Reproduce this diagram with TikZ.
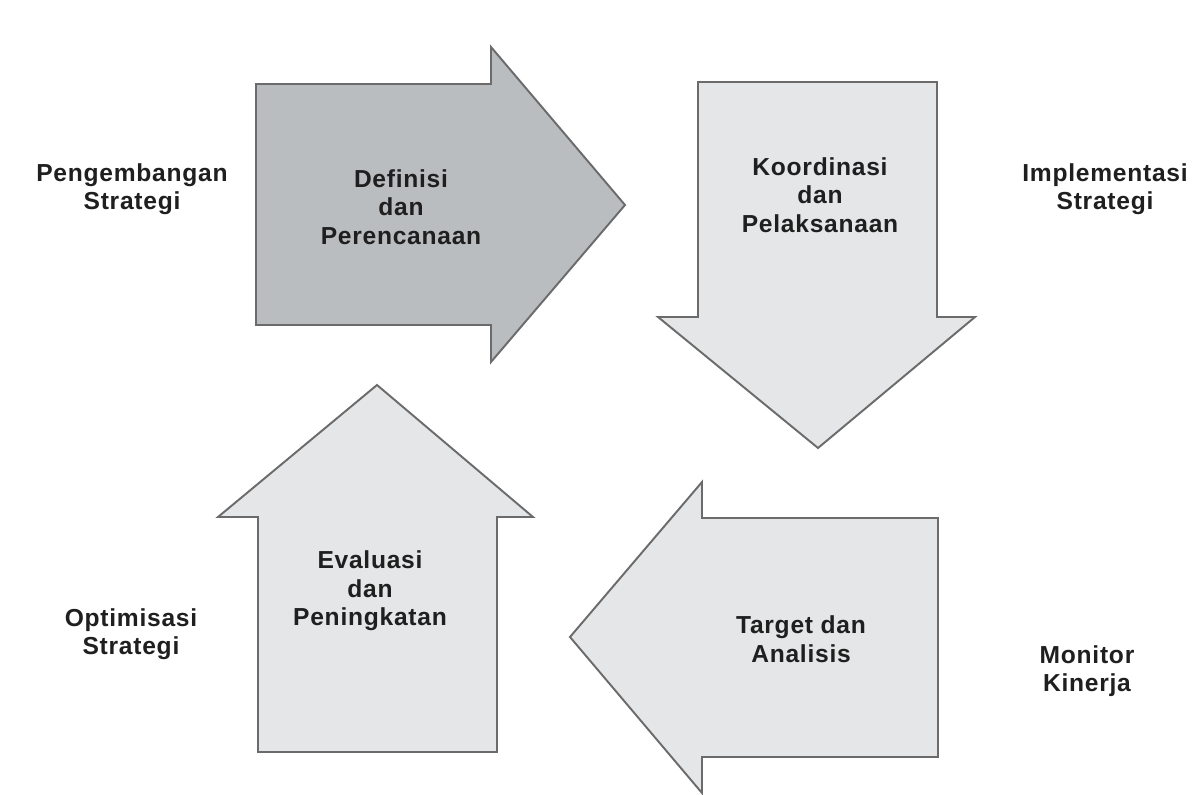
\documentclass[tikz,border=0pt]{standalone}
\usepackage{fontspec}
\setmainfont{Liberation Sans}
\newfontfamily\lblfont[LetterSpace=3.0]{Liberation Sans}
\begin{document}
\begin{tikzpicture}[x=0.02cm,y=-0.02cm,
  blockarrow/.style={draw=black!58, line width=1.1pt, line join=miter},
  darkfill/.style={fill={rgb,255:red,186;green,189;blue,191}},
  lightfill/.style={fill={rgb,255:red,229;green,230;blue,231}},
  lbl/.style={align=center, text=black!88, inner sep=0pt,
    font=\lblfont\bfseries\fontsize{14}{16.2}\selectfont}]
  % canvas
  \fill[white] (0,0) rectangle (1192,794);
  \useasboundingbox (0,0) rectangle (1192,794);
  \begin{scope}
    \clip (0,0) rectangle (1192,794);
    % right-pointing arrow (top left)
    \draw[blockarrow,darkfill] (256,84) -- (491,84) -- (491,47) -- (625,205)
      -- (491,362) -- (491,325) -- (256,325) -- cycle;
    % down-pointing arrow (top right)
    \draw[blockarrow,lightfill] (698,82) -- (937,82) -- (937,317) -- (975,317)
      -- (818,448) -- (658,317) -- (698,317) -- cycle;
    % left-pointing arrow (bottom right)
    \draw[blockarrow,lightfill] (938,518) -- (938,757) -- (702,757) -- (702,793)
      -- (570,637) -- (702,482) -- (702,518) -- cycle;
    % up-pointing arrow (bottom left)
    \draw[blockarrow,lightfill] (258,752) -- (258,517) -- (218,517) -- (377,385)
      -- (533,517) -- (497,517) -- (497,752) -- cycle;
  \end{scope}
  % texts inside the arrows
  \node[lbl] (def) at (401,207) {Definisi\\dan\\Perencanaan};
  \node[lbl] (koo) at (820,195) {Koordinasi\\dan\\Pelaksanaan};
  \node[lbl] (tar) at (801,639) {Target dan\\Analisis};
  \node[lbl] (eva) at (370,591) {Evaluasi\\dan\\Peningkatan};
  % phase labels
  \node[lbl] (dev) at (132,189) {Pengembangan\\Strategi};
  \node[lbl] (imp) at (1105,189) {Implementasi\\Strategi};
  \node[lbl] (opt) at (131,634) {Optimisasi\\Strategi};
  \node[lbl] (mon) at (1087,671) {Monitor\\Kinerja};
\end{tikzpicture}
\end{document}
